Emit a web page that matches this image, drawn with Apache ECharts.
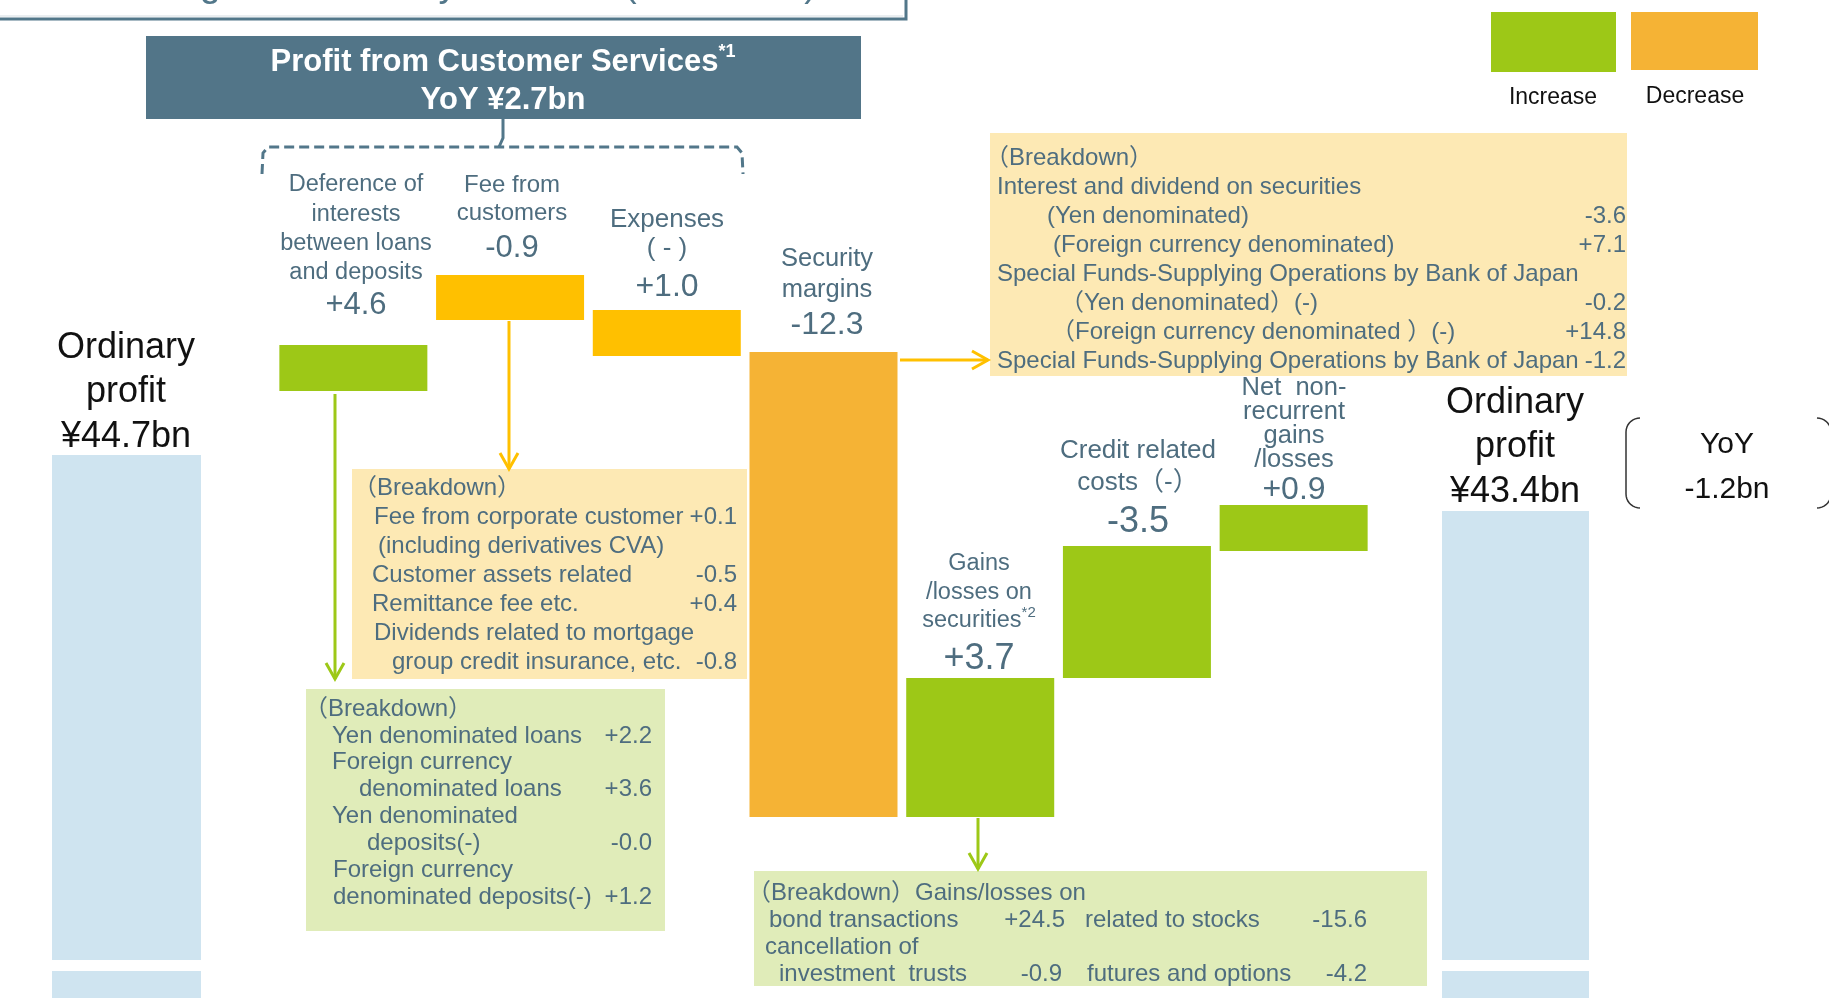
<!DOCTYPE html>
<html><head><meta charset="utf-8">
<script src="https://cdn.jsdelivr.net/npm/echarts@6/dist/echarts.min.js"></script>
<style>html,body{margin:0;padding:0;background:#fff;overflow:hidden}#c{width:1829px;height:998px;}</style>
</head><body><div id="c"></div>
<script>
// ---------------- DATA ----------------
const profitLabels = [['Ordinary', 'profit', '¥44.7bn'], ['Ordinary', 'profit', '¥43.4bn']];
const profitValues = [44.7, 43.4];
const yoyLabel = ['YoY', '-1.2bn'];
const headerLines = ['Profit from Customer Services', 'YoY ¥2.7bn'];
const stepNames = [
  ['Deference of', 'interests', 'between loans', 'and deposits'],
  ['Fee from', 'customers'],
  ['Expenses', '( - )'],
  ['Security', 'margins'],
  ['Gains', '/losses on', 'securities'],
  ['Credit related', 'costs（-）'],
  ['Net  non-', 'recurrent', 'gains', '/losses']
];
const stepValues = ['+4.6', '-0.9', '+1.0', '-12.3', '+3.7', '-3.5', '+0.9'];
const stepKind = ['inc', 'dec', 'dec', 'dec', 'inc', 'inc', 'inc'];
// The original waterfall is schematic (not to scale); extents in drawing units
const stepLow  = [60.7, 67.8, 64.2, 18.1, 18.1, 32.0, 44.7];
const stepHigh = [65.3, 72.3, 68.8, 64.6, 32.0, 45.2, 49.3];
const profitBarTop = [54.3, 48.7];
const breakBand = [2.7, 3.8];
const legendNames = ['Increase', 'Decrease'];

const feeBreakdown = [
  ['（Breakdown）', ''],
  ['Fee from corporate customer', '+0.1'],
  ['(including derivatives CVA)', ''],
  ['Customer assets related', '-0.5'],
  ['Remittance fee etc.', '+0.4'],
  ['Dividends related to mortgage', ''],
  ['group credit insurance, etc.', '-0.8']
];
const loanBreakdown = [
  ['（Breakdown）', ''],
  ['Yen denominated loans', '+2.2'],
  ['Foreign currency', ''],
  ['denominated loans', '+3.6'],
  ['Yen denominated', ''],
  ['deposits(-)', '-0.0'],
  ['Foreign currency', ''],
  ['denominated deposits(-)', '+1.2']
];
const securityBreakdown = [
  ['（Breakdown）', ''],
  ['Interest and dividend on securities', ''],
  ['(Yen denominated)', '-3.6'],
  ['(Foreign currency denominated)', '+7.1'],
  ['Special Funds-Supplying Operations by Bank of Japan', ''],
  ['（Yen denominated）(-)', '-0.2'],
  ['（Foreign currency denominated ）(-)', '+14.8'],
  ['Special Funds-Supplying Operations by Bank of Japan', '-1.2']
];
const gainsBreakdown = [
  ['（Breakdown）Gains/losses on', '', '', ''],
  ['bond transactions', '+24.5', 'related to stocks', '-15.6'],
  ['cancellation of', '', '', ''],
  ['investment  trusts', '-0.9', 'futures and options', '-4.2']
];

// ---------------- STYLE ----------------
const FONT = "'Liberation Sans', Arial, 'Noto Sans CJK JP', sans-serif";
const GREEN = '#9dc817', GOLD = '#ffc000', ORANGE = '#f5b335', BLUE = '#cfe4f0';
const SLATE = '#52778a', TXT = '#4e6d7f';
const BOX_Y = '#fde9b4', BOX_G = '#e0ecb9';
const decShade = {1: GOLD, 2: GOLD, 3: ORANGE};
const DY = 2;

const chart = echarts.init(document.getElementById('c'), null, {renderer: 'canvas'});
const mctx = document.createElement('canvas').getContext('2d');
function measure(t, font) { mctx.font = font; return mctx.measureText(t).width; }

function T(x, y, text, size, o) {
  o = o || {};
  return {type: 'text', x: x, y: y + DY, silent: true, z: 100,
    style: {text: text, fill: o.color || TXT,
      font: (o.weight || 'normal') + ' ' + size + 'px ' + FONT,
      align: o.align || 'left', verticalAlign: 'middle'}};
}
function R(x, y, w, h, fill) {
  return {type: 'rect', silent: true, z: 50, shape: {x: x, y: y, width: w, height: h}, style: {fill: fill}};
}
function PL(points, color, width, dash) {
  const s = {stroke: color, lineWidth: width, fill: null};
  if (dash) s.lineDash = dash;
  return {type: 'polyline', silent: true, z: 60, shape: {points: points}, style: s};
}
function arrow(points, color, head) {
  const els = [PL(points, color, 3)];
  const p = points[points.length - 1];
  let hp;
  if (head === 'down') hp = [[p[0] - 9, p[1] - 16], p, [p[0] + 9, p[1] - 16]];
  else hp = [[p[0] - 16, p[1] - 9], p, [p[0] - 16, p[1] + 9]];
  els.push(PL(hp, color, 3));
  return els;
}
// rounded bracket: vertical edge at xEdge, corners curving toward dir (+1 right, -1 left)
function bracket(xEdge, top, bottom, dir, r) {
  const cx = xEdge + dir * r;
  const out = [];
  for (let a = 0; a <= 90; a += 10) {
    const t = a * Math.PI / 180;
    out.push([cx - dir * r * Math.sin(t), top + r - r * Math.cos(t)]);
  }
  for (let a = 90; a >= 0; a -= 10) {
    const t = a * Math.PI / 180;
    out.push([cx - dir * r * Math.sin(t), bottom - r + r * Math.cos(t)]);
  }
  return out;
}

// ---------------- SERIES ----------------
const stepCats = stepNames.map(n => n.join(' '));
const series = [];
[0, 1].forEach(k => {
  const axis = k === 0 ? 0 : 2;
  series.push({type: 'bar', xAxisIndex: axis, yAxisIndex: axis, stack: 'p' + k, barWidth: '100%',
    data: [breakBand[0]], itemStyle: {color: BLUE}, silent: true});
  series.push({type: 'bar', xAxisIndex: axis, yAxisIndex: axis, stack: 'p' + k, barWidth: '100%',
    data: [breakBand[1] - breakBand[0]], itemStyle: {color: 'rgba(0,0,0,0)'}, silent: true});
  series.push({type: 'bar', xAxisIndex: axis, yAxisIndex: axis, stack: 'p' + k, barWidth: '100%',
    data: [profitBarTop[k] - breakBand[1]], itemStyle: {color: BLUE}, silent: true});
});
series.push({type: 'bar', xAxisIndex: 1, yAxisIndex: 1, stack: 's', barWidth: 148,
  data: stepLow, itemStyle: {color: 'rgba(0,0,0,0)'}, silent: true});
series.push({type: 'bar', xAxisIndex: 1, yAxisIndex: 1, stack: 's', barWidth: 148, silent: true,
  data: stepHigh.map((h, i) => ({value: +(h - stepLow[i]).toFixed(2),
    itemStyle: {color: stepKind[i] === 'inc' ? GREEN : decShade[i]}}))});

// ---------------- ANNOTATIONS ----------------
const G = [];
// cut-off title box at very top
G.push(PL([[-5, 19], [906, 19], [906, -5]], SLATE, 3));
G.push(PL([[-5, 16], [903, 16]], '#d5dde2', 1));
G.push(T(109, -16, 'Changes in Ordinary Profit', 38, {color: SLATE}));
G.push(T(624, -16, '(YoY basis)', 38, {color: SLATE}));

// header box
G.push(R(146, 36, 715, 83, '#527588'));
(function () {
  const f1 = 'bold 31px ' + FONT, f2 = 'bold 18px ' + FONT;
  const W = measure(headerLines[0], f1), w = measure('*1', f2);
  const sx = 503 - (W + w) / 2;
  G.push(T(sx, 60, headerLines[0], 31, {color: '#fff', weight: 'bold'}));
  G.push(T(sx + W, 50, '*1', 18, {color: '#fff', weight: 'bold'}));
  G.push(T(503, 98, headerLines[1], 31, {color: '#fff', weight: 'bold', align: 'center'}));
})();
// dashed bracket
G.push(PL([[262, 174], [263, 153], [268, 147], [737, 147], [742, 153], [743, 174]], SLATE, 3, [10, 5]));
G.push(PL([[503, 119], [503, 138], [499, 147]], SLATE, 3));

// legend
G.push(R(1491, 12, 125, 60, GREEN));
G.push(R(1631, 12, 127, 58, ORANGE));
G.push(T(1553, 96, legendNames[0], 23, {color: '#111', align: 'center'}));
G.push(T(1695, 95, legendNames[1], 23, {color: '#111', align: 'center'}));

// profit labels
[[126, 346, 44.5], [1515, 401, 44.5]].forEach((p, k) => {
  profitLabels[k].forEach((s, j) => G.push(T(p[0], p[1] + j * p[2], s, 36, {color: '#111', align: 'center'})));
});
// YoY bracket
G.push(PL(bracket(1626, 418, 508, 1, 14), '#333', 1.5));
G.push(PL(bracket(1831, 418, 508, -1, 14), '#333', 1.5));
G.push(T(1727, 443, yoyLabel[0], 30, {color: '#111', align: 'center'}));
G.push(T(1727, 488, yoyLabel[1], 30, {color: '#111', align: 'center'}));

// step labels: [centerX, firstLineY, lineGap, nameSize, valueY, valueSize]
const stepLabelPos = [
  [356, 183, 29.3, 23.5, 303, 31],
  [512, 183, 28, 24, 246, 31],
  [667, 218, 29, 26, 285, 32],
  [827, 257, 31, 25.5, 323, 32],
  [979, 562, 28.5, 23.5, 657, 36],
  [1138, 449, 32, 26, 520, 36],
  [1294, 386, 24, 25.5, 488, 32]
];
stepNames.forEach((lines, i) => {
  const p = stepLabelPos[i];
  lines.forEach((s, j) => {
    const y = p[1] + j * p[2];
    if (i === 4 && j === 2) {
      const f = p[3] + 'px ' + FONT;
      const W = measure(s, f), w = measure('*2', '15px ' + FONT);
      const sx = p[0] - (W + w) / 2;
      G.push(T(sx, y, s, p[3]));
      G.push(T(sx + W, y - 8, '*2', 15));
    } else {
      G.push(T(p[0], y, s, p[3], {align: 'center'}));
    }
  });
  G.push(T(p[0], p[4], stepValues[i], p[5], {align: 'center'}));
});

// breakdown boxes
function box(rect, fill, rows, y0, gap, xs, valueRight, size) {
  G.push(R(rect[0], rect[1], rect[2], rect[3], fill));
  rows.forEach((r, j) => {
    const y = y0 + j * gap;
    G.push(T(xs[j], y, r[0], size));
    if (r[1]) G.push(T(valueRight, y, r[1], size, {align: 'right'}));
  });
}
box([352, 469, 395, 210], BOX_Y, feeBreakdown, 486, 29, [353, 374, 378, 372, 372, 374, 392], 737, 24);
box([306, 689, 359, 242], BOX_G, loanBreakdown, 707, 26.9, [304, 332, 332, 359, 332, 367, 333, 333], 652, 24);
box([990, 133, 637, 243], BOX_Y, securityBreakdown, 156, 29, [985, 997, 1047, 1053, 997, 1060, 1051, 997], 1626, 24);
G.push(R(754, 871, 673, 115, BOX_G));
gainsBreakdown.forEach((r, j) => {
  const y = 891 + j * 27;
  const xs = [747, 769, 765, 779];
  G.push(T(xs[j], y, r[0], 24));
  if (r[1]) G.push(T(j === 1 ? 1065 : 1062, y, r[1], 24, {align: 'right'}));
  if (r[2]) G.push(T(j === 1 ? 1085 : 1087, y, r[2], 24));
  if (r[3]) G.push(T(1367, y, r[3], 24, {align: 'right'}));
});

// arrows
arrow([[335, 394], [335, 679]], GREEN, 'down').forEach(e => G.push(e));
arrow([[509, 321], [509, 469]], GOLD, 'down').forEach(e => G.push(e));
arrow([[900, 360], [988, 360]], GOLD, 'right').forEach(e => G.push(e));
arrow([[978, 818], [978, 869]], GREEN, 'down').forEach(e => G.push(e));

const yAx = i => ({type: 'value', gridIndex: i, min: 0, max: 99.8, show: false});
chart.setOption({
  animation: false,
  grid: [
    {left: 52, width: 149, top: 0, height: 998},
    {left: 275, width: 1097, top: 0, height: 998},
    {left: 1442, width: 147, top: 0, height: 998}
  ],
  xAxis: [
    {type: 'category', gridIndex: 0, data: ['Ordinary profit (previous)'], show: false},
    {type: 'category', gridIndex: 1, data: stepCats, show: false},
    {type: 'category', gridIndex: 2, data: ['Ordinary profit (current)'], show: false}
  ],
  yAxis: [yAx(0), yAx(1), yAx(2)],
  series: series,
  graphic: {elements: G}
});
</script>
</body></html>
